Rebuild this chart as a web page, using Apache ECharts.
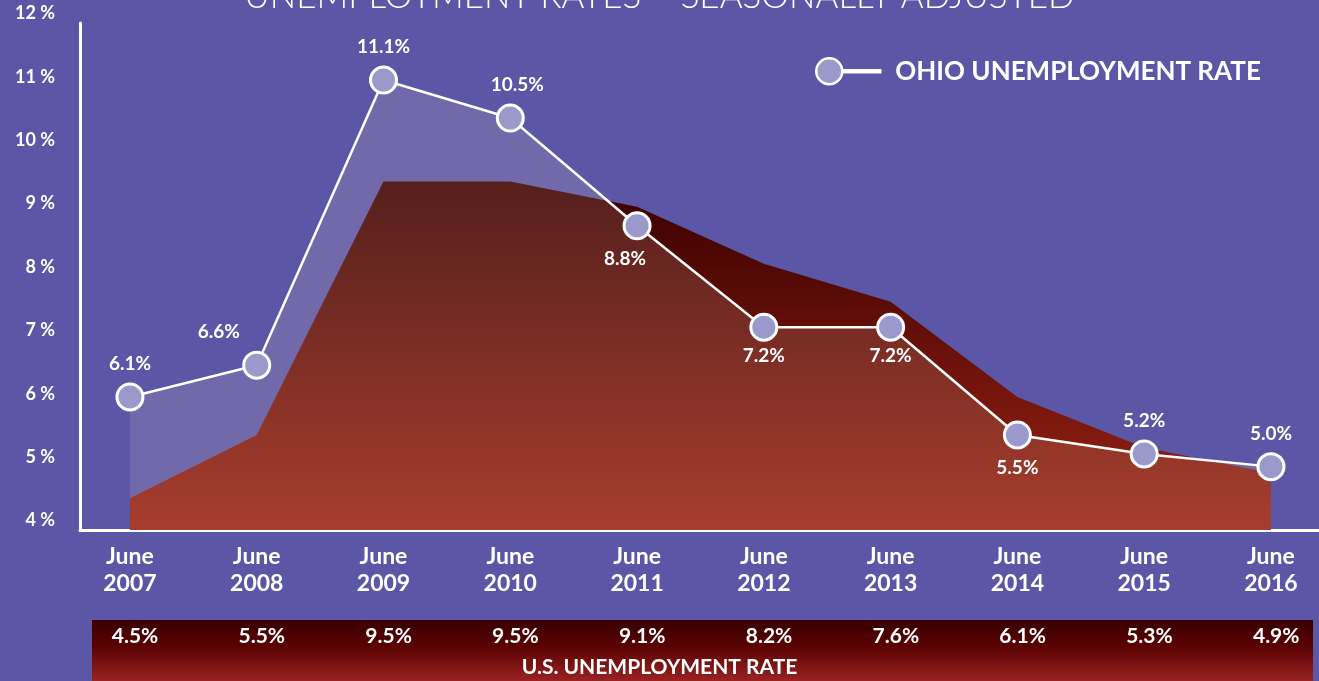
<!DOCTYPE html>
<html>
<head>
<meta charset="utf-8">
<script src="https://cdn.jsdelivr.net/npm/echarts@6/dist/echarts.min.js"></script>
<style>
html,body{margin:0;padding:0;background:#5b56a5;}
#chart{width:1319px;height:681px;}
</style>
</head>
<body>
<div id="chart"></div>
<script>
// ---- data ----
const years = [2007, 2008, 2009, 2010, 2011, 2012, 2013, 2014, 2015, 2016];
const ohioRate = [6.1, 6.6, 11.1, 10.5, 8.8, 7.2, 7.2, 5.5, 5.2, 5.0];
const usRate = [4.5, 5.5, 9.5, 9.5, 9.1, 8.2, 7.6, 6.1, 5.3, 4.9];
const yMin = 4, yMax = 12, yStep = 1;
const titleText = 'UNEMPLOYMENT RATES \u2013 SEASONALLY ADJUSTED';
const ohioName = 'OHIO UNEMPLOYMENT RATE';
const usName = 'U.S. UNEMPLOYMENT RATE';

// ---- label placement (style, not data) ----
const ohioLabelSide = ['top','top','top','top','bottom','bottom','bottom','bottom','top','top'];
const ohioLabelShift = [[0,0],[-38,0],[0,0],[7,0],[-12,0],[0,-4],[0,-4],[0,0],[0,0],[0,0]];

const FONT = 'Lato, "Open Sans", sans-serif';
const chart = echarts.init(document.getElementById('chart'), null, {renderer: 'canvas'});

const ohioData = years.map((y, i) => ({
  value: [y, ohioRate[i]],
  label: { position: ohioLabelSide[i], offset: ohioLabelShift[i] }
}));
const usData = years.map((y, i) => [y, usRate[i]]);

const legendIcon = 'path://M0,13A13,13,0,1,1,26,13A13,13,0,1,1,0,13Z M26,12L64,12L64,14L26,14Z';

const option = {
  backgroundColor: '#5b56a5',
  animation: false,
  title: [
    { text: titleText, left: 'center', top: -26,
      textStyle: { color: '#ffffff', fontFamily: FONT, fontWeight: 300, fontSize: 35 } },
    { text: usName, left: 'center', top: 652,
      textStyle: { color: '#ffffff', fontFamily: FONT, fontWeight: 'bold', fontSize: 21 } }
  ],
  legend: {
    data: [{ name: ohioName, icon: legendIcon }],
    left: 810, top: 52,
    itemWidth: 64, itemHeight: 26,
    itemStyle: { color: '#9b98cb', borderColor: '#ffffff', borderWidth: 2.5 },
    textStyle: { color: '#ffffff', fontFamily: FONT, fontWeight: 'bold', fontSize: 26, padding: [0,0,0,10] }
  },
  grid: [
    { left: 80, right: 0, top: 23, bottom: 151, containLabel: false },
    { left: 92, right: 6, top: 620, bottom: 0, show: true, borderWidth: 0,
      backgroundColor: { type: 'linear', x: 0, y: 0, x2: 0, y2: 1,
        colorStops: [{offset: 0, color: '#380000'}, {offset: 0.45, color: '#5c0203'}, {offset: 1, color: '#9a2222'}] } }
  ],
  xAxis: [
    { type: 'value', gridIndex: 0, min: 2006.606, max: 2016.379,
      axisLine: { show: true, lineStyle: { color: '#ffffff', width: 3 } },
      axisTick: { show: false }, splitLine: { show: false },
      axisLabel: { customValues: years, formatter: v => 'June\n' + v, color: '#ffffff',
        fontFamily: FONT, fontWeight: 'bold', fontSize: 23, lineHeight: 27, margin: 13 } },
    { type: 'value', gridIndex: 1, position: 'top', min: 2006.661, max: 2016.290,
      axisLine: { show: false }, axisTick: { show: false }, splitLine: { show: false },
      axisLabel: { customValues: years, inside: true, margin: 6,
        formatter: v => usRate[years.indexOf(v)].toFixed(1) + '%',
        color: '#ffffff', fontFamily: FONT, fontWeight: 'bold', fontSize: 21 } }
  ],
  yAxis: [
    { type: 'value', gridIndex: 0, min: yMin, max: yMax, interval: yStep,
      axisLine: { show: true, lineStyle: { color: '#ffffff', width: 3 } },
      axisTick: { show: false }, splitLine: { show: false },
      axisLabel: { formatter: '{value} %', color: '#ffffff', fontFamily: FONT, fontWeight: 'bold',
        fontSize: 18, margin: 25, verticalAlign: 'bottom', lineHeight: 19 } },
    { type: 'value', gridIndex: 1, show: false, min: 0, max: 1 }
  ],
  series: [
    { name: usName, type: 'line', xAxisIndex: 0, yAxisIndex: 0, z: 2,
      data: usData, symbol: 'none', lineStyle: { width: 0 },
      areaStyle: { opacity: 1, color: { type: 'linear', x: 0, y: 0, x2: 0, y2: 1,
        colorStops: [{offset: 0, color: '#3a0000'}, {offset: 1, color: '#9b2314'}] } } },
    { name: ohioName, type: 'line', xAxisIndex: 0, yAxisIndex: 0, z: 3,
      data: ohioData, symbol: 'circle', symbolSize: 26,
      itemStyle: { color: '#9b98cb', borderColor: '#ffffff', borderWidth: 3 },
      lineStyle: { color: '#ffffff', width: 2.5 },
      areaStyle: { color: 'rgba(242,215,192,0.15)', opacity: 1 },
      label: { show: true, distance: 9, color: '#ffffff', fontFamily: FONT, fontWeight: 'bold', fontSize: 19,
        formatter: p => p.value[1].toFixed(1) + '%' } }
  ]
};
chart.setOption(option);
</script>
</body>
</html>
